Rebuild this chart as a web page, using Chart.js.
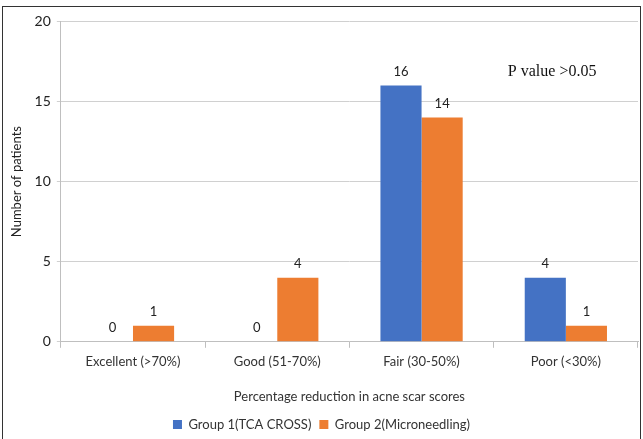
<!DOCTYPE html>
<html>
<head>
<meta charset="utf-8">
<script src="https://cdn.jsdelivr.net/npm/chart.js@4.4.1/dist/chart.umd.min.js"></script>
<style>
  html, body { margin: 0; padding: 0; background: #fff; }
  #frame {
    position: absolute; left: 2px; top: 6px;
    width: 639px; height: 440px;
    border: 1px solid #333; box-sizing: border-box;
  }
  #chart { display: block; }
</style>
</head>
<body>
<div id="frame"><canvas id="chart" width="637" height="438"></canvas></div>
<script>
// categories and counts
const categories = ['Excellent (>70%)', 'Good (51-70%)', 'Fair (30-50%)', 'Poor (<30%)'];
const group1 = [0, 0, 16, 4];
const group2 = [1, 4, 14, 1];
const yTicks = [0, 5, 10, 15, 20];

const FONT = 'Lato, "Open Sans", sans-serif';

// value labels above bars
const valueLabels = {
    id: 'valueLabels',
    afterDatasetsDraw(chart) {
        const ctx = chart.ctx;
        ctx.save();
        ctx.font = '13px ' + FONT;
        ctx.fillStyle = '#222';
        ctx.textAlign = 'center';
        ctx.textBaseline = 'bottom';
        chart.data.datasets.forEach((ds, i) => {
            chart.getDatasetMeta(i).data.forEach((bar, j) => {
                ctx.fillText(ds.data[j], bar.x, bar.y - 7);
            });
        });
        ctx.restore();
    }
};

// "P value" note in the upper right
const pNote = {
    id: 'pNote',
    afterDraw(chart) {
        const a = chart.chartArea;
        const ctx = chart.ctx;
        ctx.save();
        ctx.font = '16px "Liberation Serif", "DejaVu Serif", serif';
        ctx.fillStyle = '#111';
        ctx.textAlign = 'left';
        ctx.textBaseline = 'middle';
        ctx.fillText('P value >0.05', a.left + 447, a.top + 50);
        ctx.restore();
    }
};

new Chart(document.getElementById('chart'), {
    type: 'bar',
    data: {
        labels: categories,
        datasets: [{
            label: 'Group 1(TCA CROSS)',
            data: group1,
            backgroundColor: '#4472C4',
            categoryPercentage: 0.57,
            barPercentage: 1.0
        }, {
            label: 'Group 2(Microneedling)',
            data: group2,
            backgroundColor: '#ED7D31',
            categoryPercentage: 0.57,
            barPercentage: 1.0
        }]
    },
    options: {
        responsive: false,
        animation: false,
        layout: { padding: { left: 2, right: 2, top: 11, bottom: 4 } },
        scales: {
            x: {
                grid: { display: true, drawOnChartArea: false, offset: true, tickLength: 6, color: '#bfbfbf' },
                border: { color: '#bfbfbf' },
                ticks: { color: '#333', font: { family: FONT, size: 13 }, padding: 6 },
                title: { display: true, text: 'Percentage reduction in acne scar scores', color: '#333',
                         font: { family: FONT, size: 13 }, padding: { top: 14, bottom: 5 } }
            },
            y: {
                min: 0, max: 20,
                afterBuildTicks: axis => { axis.ticks = yTicks.map(v => ({ value: v })); },
                grid: { color: '#d0d0d0', tickLength: 4 },
                border: { color: '#bfbfbf' },
                ticks: { color: '#222', font: { family: FONT, size: 14 }, padding: 6 },
                title: { display: true, text: 'Number of patients', color: '#222',
                         font: { family: FONT, size: 13 }, padding: { bottom: 4 } }
            }
        },
        plugins: {
            legend: {
                position: 'bottom',
                labels: { boxWidth: 9, boxHeight: 9, color: '#333', padding: 8, font: { family: FONT, size: 13 } }
            },
            tooltip: { enabled: false }
        }
    },
    plugins: [valueLabels, pNote]
});
</script>
</body>
</html>
